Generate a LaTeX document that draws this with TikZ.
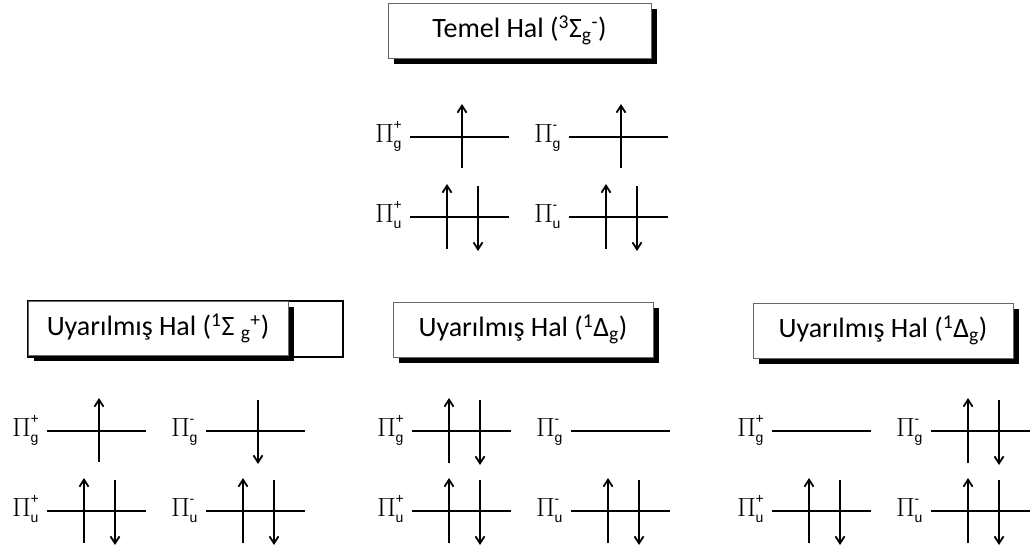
\documentclass[tikz,border=0pt]{standalone}
\usepackage{fontspec}
\setmainfont{Carlito}
\newfontfamily\helv{Liberation Sans}
\usetikzlibrary{arrows.meta, shadows}

\newcommand{\pisub}{\helv\fontsize{14}{14}\selectfont}
\newcommand{\pilab}[2]{\scalebox{1.1}[1.06]{$\Pi$}\kern-0.5pt\rlap{\raisebox{13pt}{\pisub #1}}\raisebox{-6pt}{\pisub #2}}

\tikzset{
    hbox/.style={draw=black!60, line width=1pt, fill=white, inner sep=0pt,
        font=\fontsize{28}{32}\selectfont,
        drop shadow={shadow xshift=6pt, shadow yshift=-6pt, opacity=1, fill=black}},
    outerbox/.style={draw=black, line width=1.2pt},
    orbline/.style={line width=1.8pt},
    spin/.style={line width=1.8pt, -{Straight Barb[length=7pt, width=9pt]}},
    pilabel/.style={anchor=base west, inner sep=0pt, font=\fontsize{26}{26}\selectfont}
}

% one level: name, x0, y, sign, parity, electrons (0 none, 1 up, 2 down, 3 pair)
\newcommand{\orblevel}[6]{%
    \node[pilabel] (#1) at ({#2}, {#3+5}) {\pilab{#4}{#5}};
    \draw[orbline] ({#2+35}, {#3}) -- ++(99, 0);
    \ifcase#6\relax
    \or \draw[spin] ({#2+87}, {#3+31}) -- ({#2+87}, {#3-33});
    \or \draw[spin] ({#2+87}, {#3-31}) -- ({#2+87}, {#3+33});
    \or \draw[spin] ({#2+72}, {#3+32}) -- ({#2+72}, {#3-33});
        \draw[spin] ({#2+103}, {#3-31}) -- ({#2+103}, {#3+34});
    \fi}

% four levels: name, x0, y0, g+, g-, u+, u-
\newcommand{\orbset}[7]{%
    \orblevel{#1-gp}{#2}{#3}{+}{g}{#4}
    \orblevel{#1-gm}{#2+159}{#3}{-}{g}{#5}
    \orblevel{#1-up}{#2}{#3+80}{+}{u}{#6}
    \orblevel{#1-um}{#2+159}{#3+80}{-}{u}{#7}}

\begin{document}
\begin{tikzpicture}[x=1pt, y=-1pt]
    \useasboundingbox (0, 0) rectangle (1032, 554);

    % Ground state
    \node[hbox, minimum width=263pt, minimum height=55pt] (temel) at (519.5, 30.5)
        {Temel Hal (\textsuperscript{3}Σ\textsubscript{g}\textsuperscript{-})};
    \orbset{top}{375}{137}{1}{1}{3}{3}

    % Excited states
    \node[outerbox, minimum width=315pt, minimum height=56pt] (sigmaframe) at (185.5, 329) {};
    \node[hbox, minimum width=260pt, minimum height=54pt] (sigma) at (158, 328)
        {Uyarılmış Hal (\textsuperscript{1}Σ \textsubscript{g}\textsuperscript{+})};
    \orbset{left}{12}{431}{1}{2}{3}{3}

    \node[hbox, minimum width=260pt, minimum height=55pt] (deltaA) at (523, 329.5)
        {Uyarılmış Hal (\textsuperscript{1}Δ\textsubscript{g})};
    \orbset{mid}{377}{431}{3}{0}{3}{3}

    \node[hbox, minimum width=260pt, minimum height=55pt] (deltaB) at (883, 330.5)
        {Uyarılmış Hal (\textsuperscript{1}Δ\textsubscript{g})};
    \orbset{right}{737}{431}{0}{3}{3}{3}
\end{tikzpicture}
\end{document}
